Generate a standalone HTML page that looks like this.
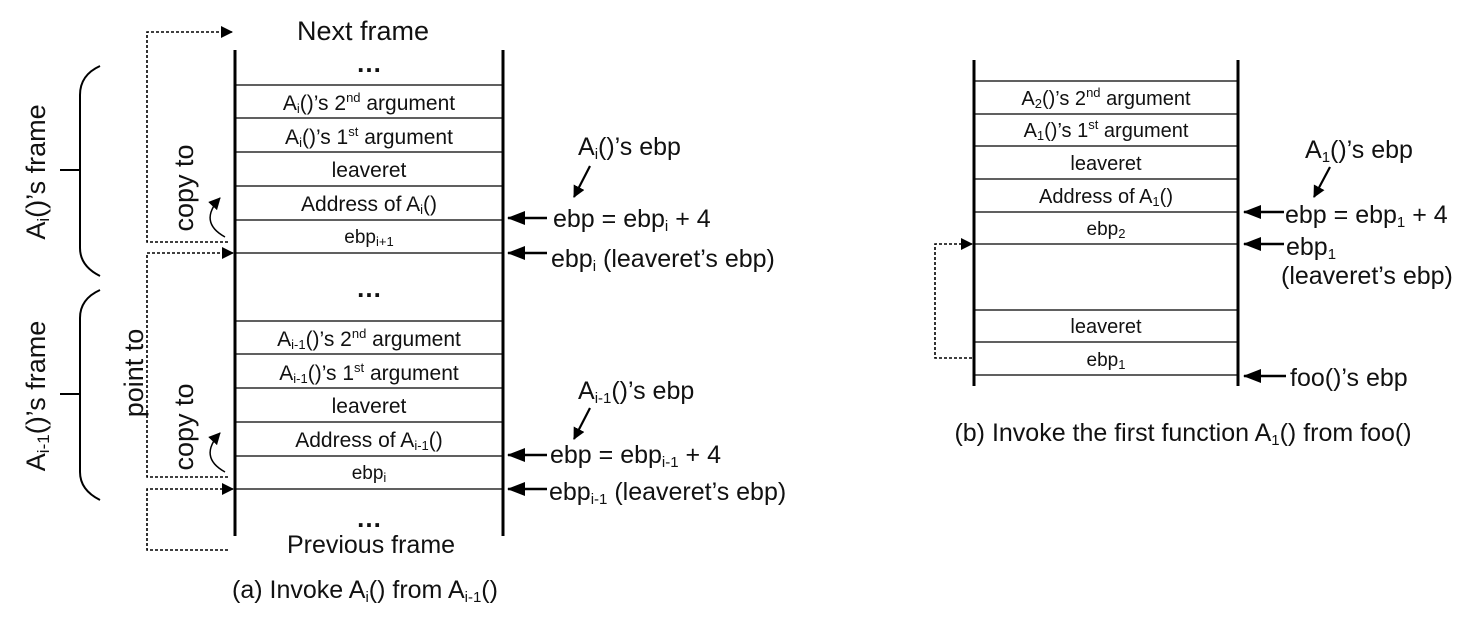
<!DOCTYPE html>
<html><head><meta charset="utf-8"><style>
html,body{margin:0;padding:0;background:#fff;}
svg{display:block;font-family:"Liberation Sans",sans-serif;}
</style></head><body>
<svg width="1484" height="620" viewBox="0 0 1484 620" xmlns="http://www.w3.org/2000/svg">
<defs>
<marker id="ah" markerWidth="12" markerHeight="12" refX="11" refY="6" orient="auto" markerUnits="userSpaceOnUse"><path d="M0,0 L12,6 L0,12 z" fill="#000"/></marker>
<marker id="ah2" markerWidth="18" markerHeight="14" refX="17" refY="7" orient="auto" markerUnits="userSpaceOnUse"><path d="M0,0 L18,7 L0,14 z" fill="#000"/></marker>
</defs>
<g fill="#111">
<line x1="235" y1="50" x2="235" y2="536" stroke="#000" stroke-width="3"/>
<line x1="503" y1="50" x2="503" y2="536" stroke="#000" stroke-width="3"/>
<g stroke="#000" stroke-width="1.3">
<line x1="235" y1="85" x2="503" y2="85"/><line x1="235" y1="118" x2="503" y2="118"/>
<line x1="235" y1="152" x2="503" y2="152"/><line x1="235" y1="186" x2="503" y2="186"/>
<line x1="235" y1="220" x2="503" y2="220"/><line x1="235" y1="253" x2="503" y2="253"/>
<line x1="235" y1="321" x2="503" y2="321"/><line x1="235" y1="354" x2="503" y2="354"/>
<line x1="235" y1="388" x2="503" y2="388"/><line x1="235" y1="422" x2="503" y2="422"/>
<line x1="235" y1="456" x2="503" y2="456"/><line x1="235" y1="489" x2="503" y2="489"/>
</g>
<g font-size="21" text-anchor="middle">
<text x="363" y="40" font-size="27">Next frame</text>
<text x="369" y="72" font-size="26" font-weight="bold">…</text>
<text x="369" y="110">A<tspan font-size="13" dy="3">i</tspan><tspan dy="-3">()’s 2</tspan><tspan font-size="13" dy="-8">nd</tspan><tspan dy="8"> argument</tspan></text>
<text x="369" y="144">A<tspan font-size="13" dy="3">i</tspan><tspan dy="-3">()’s 1</tspan><tspan font-size="13" dy="-8">st</tspan><tspan dy="8"> argument</tspan></text>
<text x="369" y="177">leaveret</text>
<text x="369" y="211">Address of A<tspan font-size="13" dy="3">i</tspan><tspan dy="-3">()</tspan></text>
<text x="369" y="243" font-size="19">ebp<tspan font-size="13" dy="3">i+1</tspan></text>
<text x="369" y="297" font-size="26" font-weight="bold">…</text>
<text x="369" y="346">A<tspan font-size="13" dy="3">i-1</tspan><tspan dy="-3">()’s 2</tspan><tspan font-size="13" dy="-8">nd</tspan><tspan dy="8"> argument</tspan></text>
<text x="369" y="380">A<tspan font-size="13" dy="3">i-1</tspan><tspan dy="-3">()’s 1</tspan><tspan font-size="13" dy="-8">st</tspan><tspan dy="8"> argument</tspan></text>
<text x="369" y="413">leaveret</text>
<text x="369" y="447">Address of A<tspan font-size="13" dy="3">i-1</tspan><tspan dy="-3">()</tspan></text>
<text x="369" y="479" font-size="19">ebp<tspan font-size="13" dy="3">i</tspan></text>
<text x="369" y="527" font-size="26" font-weight="bold">…</text>
<text x="371" y="553" font-size="25">Previous frame</text>
<text x="365" y="598" font-size="25">(a) Invoke A<tspan font-size="15" dy="4">i</tspan><tspan dy="-4">() from A</tspan><tspan font-size="15" dy="4">i-1</tspan><tspan dy="-4">()</tspan></text>
</g>
<g stroke="#000" stroke-width="1.6" stroke-dasharray="3,2" fill="none">
<polyline points="228,242 147,242 147,32 232,32" marker-end="url(#ah)"/>
<polyline points="228,477 147,477 147,253 233,253" marker-end="url(#ah)"/>
<polyline points="228,550 147,550 147,489 233,489" marker-end="url(#ah)"/>
</g>
<g stroke="#000" stroke-width="2" fill="none">
<path d="M100,66 Q80,75 80,95 L80,248 Q80,266 100,276"/>
<line x1="60" y1="170" x2="80" y2="170"/>
<path d="M100,290 Q80,299 80,318 L80,472 Q80,490 100,500"/>
<line x1="60" y1="394" x2="80" y2="394"/>
<path d="M225,237 Q198,222 220,198" stroke-width="1.5" marker-end="url(#ah)"/>
<path d="M225,472 Q198,457 220,433" stroke-width="1.5" marker-end="url(#ah)"/>
</g>
<g font-size="27" text-anchor="middle">
<text transform="translate(45,172) rotate(-90)">A<tspan font-size="17" dy="4">i</tspan><tspan dy="-4">()’s frame</tspan></text>
<text transform="translate(45,396) rotate(-90)">A<tspan font-size="17" dy="4">i-1</tspan><tspan dy="-4">()’s frame</tspan></text>
<text transform="translate(143,373) rotate(-90)">point to</text>
<text transform="translate(193,188) rotate(-90)">copy to</text>
<text transform="translate(193,427) rotate(-90)">copy to</text>
</g>
<g stroke="#000" stroke-width="2.5" fill="none">
<line x1="547" y1="218" x2="508" y2="218" marker-end="url(#ah2)"/>
<line x1="547" y1="253" x2="508" y2="253" marker-end="url(#ah2)"/>
<line x1="547" y1="455" x2="508" y2="455" marker-end="url(#ah2)"/>
<line x1="547" y1="489" x2="508" y2="489" marker-end="url(#ah2)"/>
<line x1="590" y1="166" x2="574" y2="197" stroke-width="2.2" marker-end="url(#ah)"/>
<line x1="590" y1="408" x2="574" y2="439" stroke-width="2.2" marker-end="url(#ah)"/>
</g>
<g font-size="25">
<text x="578" y="155">A<tspan font-size="15" dy="4">i</tspan><tspan dy="-4">()’s ebp</tspan></text>
<text x="553" y="227">ebp = ebp<tspan font-size="15" dy="4">i</tspan><tspan dy="-4"> + 4</tspan></text>
<text x="551" y="267">ebp<tspan font-size="15" dy="4">i</tspan><tspan dy="-4"> (leaveret’s ebp)</tspan></text>
<text x="578" y="399">A<tspan font-size="15" dy="4">i-1</tspan><tspan dy="-4">()’s ebp</tspan></text>
<text x="550" y="463">ebp = ebp<tspan font-size="15" dy="4">i-1</tspan><tspan dy="-4"> + 4</tspan></text>
<text x="549" y="500">ebp<tspan font-size="15" dy="4">i-1</tspan><tspan dy="-4"> (leaveret’s ebp)</tspan></text>
</g>
<line x1="974" y1="60" x2="974" y2="386" stroke="#000" stroke-width="3"/>
<line x1="1238" y1="60" x2="1238" y2="386" stroke="#000" stroke-width="3"/>
<g stroke="#000" stroke-width="1.3">
<line x1="974" y1="81" x2="1238" y2="81"/><line x1="974" y1="114" x2="1238" y2="114"/>
<line x1="974" y1="146" x2="1238" y2="146"/><line x1="974" y1="179" x2="1238" y2="179"/>
<line x1="974" y1="212" x2="1238" y2="212"/><line x1="974" y1="244" x2="1238" y2="244"/>
<line x1="974" y1="310" x2="1238" y2="310"/><line x1="974" y1="342" x2="1238" y2="342"/>
<line x1="974" y1="375" x2="1238" y2="375"/>
</g>
<g font-size="20" text-anchor="middle">
<text x="1106" y="105">A<tspan font-size="13" dy="3">2</tspan><tspan dy="-3">()’s 2</tspan><tspan font-size="13" dy="-8">nd</tspan><tspan dy="8"> argument</tspan></text>
<text x="1106" y="137">A<tspan font-size="13" dy="3">1</tspan><tspan dy="-3">()’s 1</tspan><tspan font-size="13" dy="-8">st</tspan><tspan dy="8"> argument</tspan></text>
<text x="1106" y="170">leaveret</text>
<text x="1106" y="203">Address of A<tspan font-size="13" dy="3">1</tspan><tspan dy="-3">()</tspan></text>
<text x="1106" y="235" font-size="19">ebp<tspan font-size="13" dy="3">2</tspan></text>
<text x="1106" y="333">leaveret</text>
<text x="1106" y="366" font-size="19">ebp<tspan font-size="13" dy="3">1</tspan></text>
<text x="1183" y="441" font-size="25">(b) Invoke the first function A<tspan font-size="15" dy="4">1</tspan><tspan dy="-4">() from foo()</tspan></text>
</g>
<polyline points="972,358 935,358 935,244 972,244" stroke="#000" stroke-width="1.6" stroke-dasharray="3,2" fill="none" marker-end="url(#ah)"/>
<g stroke="#000" stroke-width="2.5" fill="none">
<line x1="1284" y1="212" x2="1244" y2="212" marker-end="url(#ah2)"/>
<line x1="1284" y1="244" x2="1244" y2="244" marker-end="url(#ah2)"/>
<line x1="1286" y1="376" x2="1244" y2="376" marker-end="url(#ah2)"/>
<line x1="1330" y1="167" x2="1314" y2="197" stroke-width="2.2" marker-end="url(#ah)"/>
</g>
<g font-size="25">
<text x="1305" y="158">A<tspan font-size="15" dy="4">1</tspan><tspan dy="-4">()’s ebp</tspan></text>
<text x="1285" y="223">ebp = ebp<tspan font-size="15" dy="4">1</tspan><tspan dy="-4"> + 4</tspan></text>
<text x="1286" y="255">ebp<tspan font-size="15" dy="4">1</tspan></text>
<text x="1281" y="284">(leaveret’s ebp)</text>
<text x="1290" y="386">foo()’s ebp</text>
</g>
</g>
</svg>
</body></html>
